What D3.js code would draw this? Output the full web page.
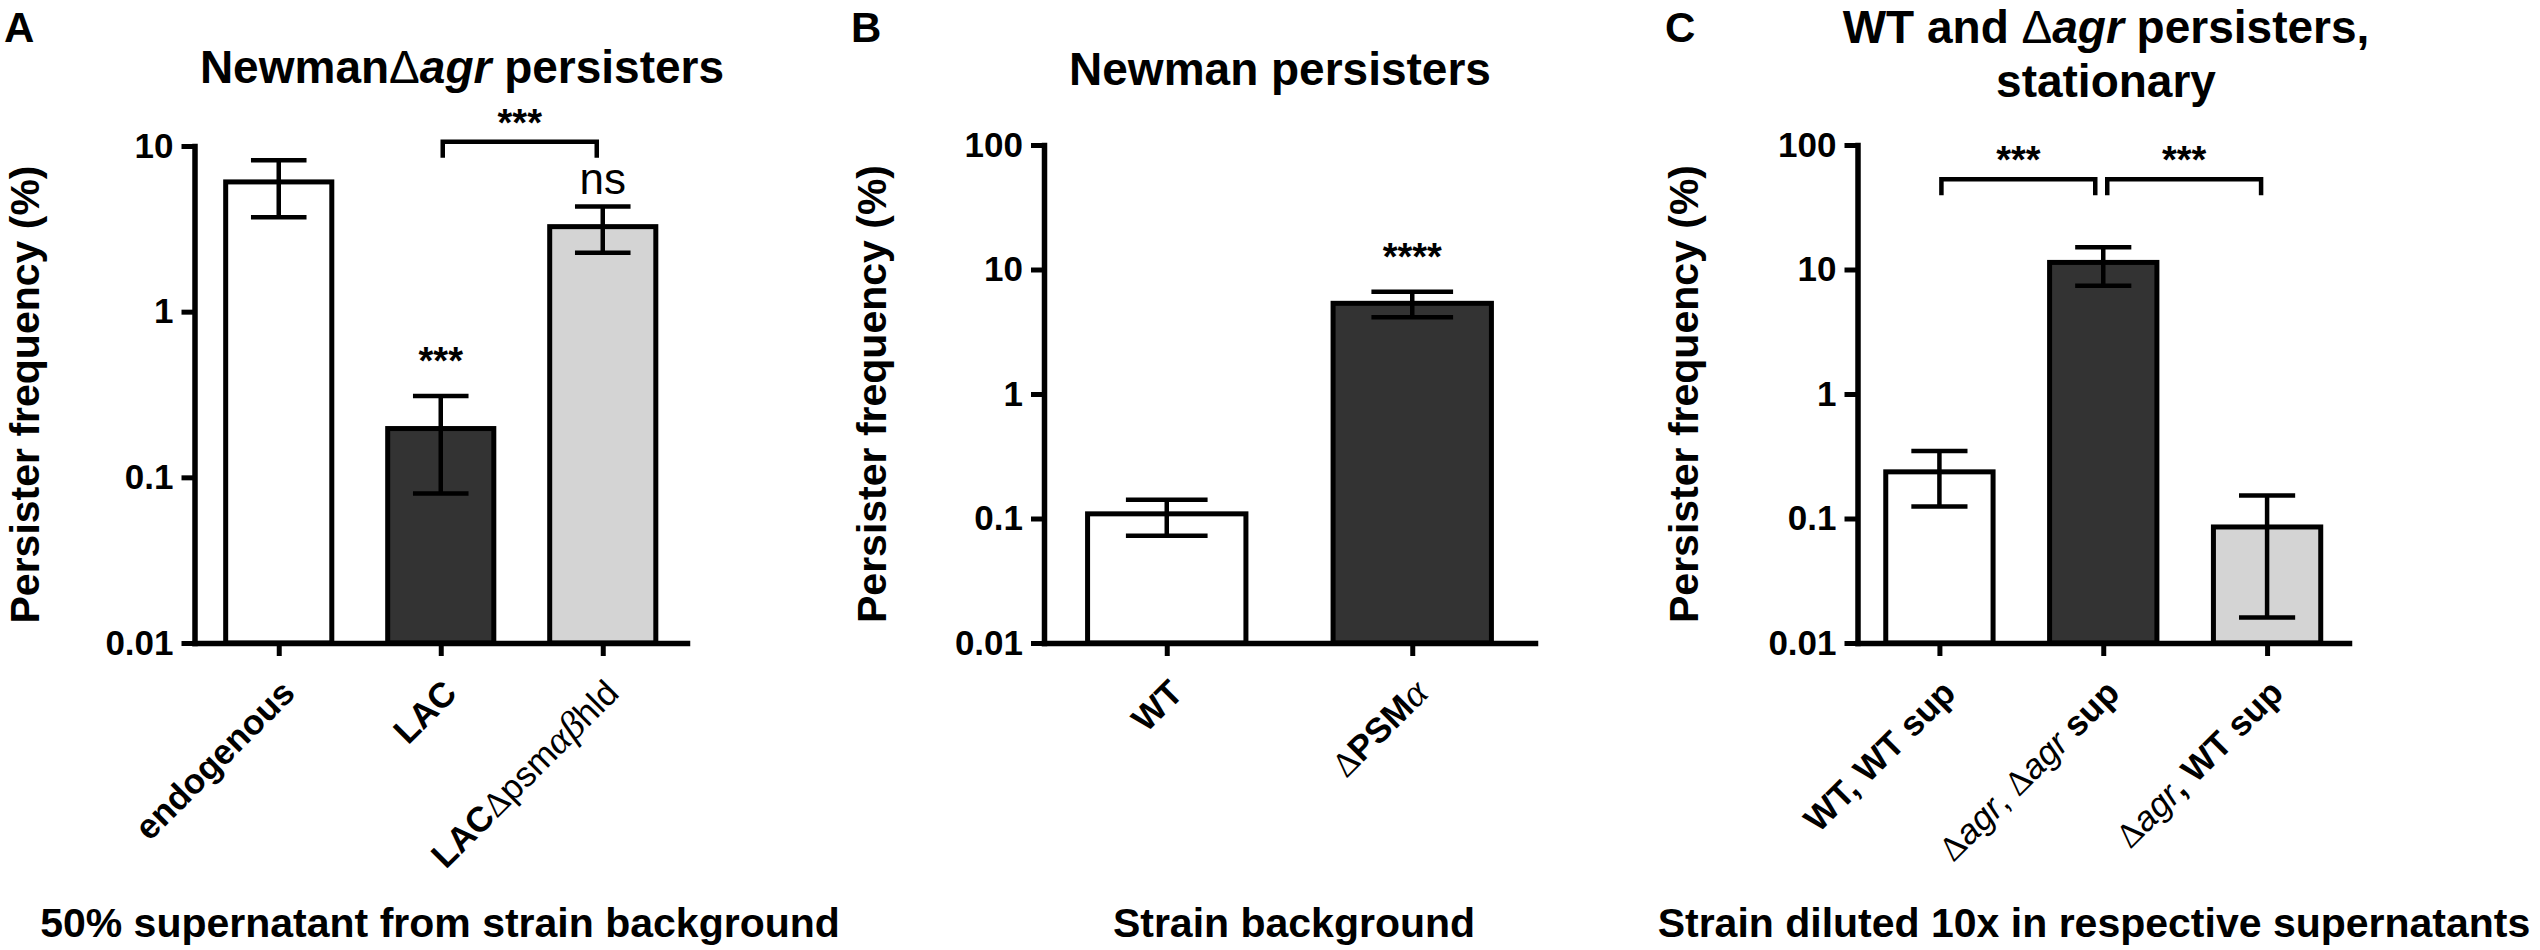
<!DOCTYPE html>
<html><head><meta charset="utf-8">
<script src="https://cdn.jsdelivr.net/npm/d3@7"></script>
<style>body{margin:0;background:#fff} svg{display:block}</style>
</head><body>
<svg id="chart" width="2540" height="950"></svg>
<script>
// ---------------- DATA ----------------
// Panel A
const aCategories = ["endogenous", "LAC", "LACΔpsmαβhld"];
const aMeans = [6.07, 0.197, 3.26];
const aLow = [3.72, 0.080, 2.27];
const aHigh = [8.2, 0.31, 4.31];
const aSig = ["", "***", "ns"];
const aBrackets = [{from: "LAC", to: "LACΔpsmαβhld", level: 10.6, label: "***"}];
const aTicks = [0.01, 0.1, 1, 10];
const aTickLabels = ["0.01", "0.1", "1", "10"];

// Panel B
const bCategories = ["WT", "ΔPSMα"];
const bMeans = [0.109, 5.35];
const bLow = [0.0726, 4.13];
const bHigh = [0.1416, 6.63];
const bSig = ["", "****"];
const bBrackets = [];
const bTicks = [0.01, 0.1, 1, 10, 100];
const bTickLabels = ["0.01", "0.1", "1", "10", "100"];

// Panel C
const cCategories = ["WT, WT sup", "Δagr, Δagr sup", "Δagr, WT sup"];
const cMeans = [0.237, 11.4, 0.0855];
const cLow = [0.125, 7.41, 0.016];
const cHigh = [0.349, 15.1, 0.153];
const cSig = ["", "", ""];
const cBrackets = [
  {from: "WT, WT sup", to: "Δagr, Δagr sup", level: 53, label: "***"},
  {from: "Δagr, Δagr sup", to: "Δagr, WT sup", level: 53, label: "***"}
];
const cTicks = [0.01, 0.1, 1, 10, 100];
const cTickLabels = ["0.01", "0.1", "1", "10", "100"];

// ---------------- STYLE / TEXT FORMATTING ----------------
const SANS = "'Liberation Sans', Arial, Helvetica, sans-serif";
const SERIF = "'Liberation Serif', 'Times New Roman', serif";
const fillColors = {white: "#ffffff", dark: "#333333", light: "#d4d4d4"};
const partStyle = {
  b:  {family: SANS, weight: "bold", style: "normal"},
  n:  {family: SANS, weight: "normal", style: "normal"},
  i:  {family: SANS, weight: "normal", style: "italic"},
  bi: {family: SANS, weight: "bold", style: "italic"},
  g:  {family: SERIF, weight: "normal", style: "italic"},
  d:  {family: SERIF, weight: "normal", style: "normal"}
};
const labelParts = {
  "endogenous": [["endogenous", "b"]],
  "LAC": [["LAC", "b"]],
  "LACΔpsmαβhld": [["LAC", "b"], ["Δ", "d"], ["psm", "n"], ["αβ", "g"], ["hld", "n"]],
  "WT": [["WT", "b"]],
  "ΔPSMα": [["Δ", "d"], ["PSM", "b"], ["α", "g"]],
  "WT, WT sup": [["WT, WT sup", "b"]],
  "Δagr, Δagr sup": [["Δ", "d"], ["agr", "i"], [", ", "n"], ["Δ", "d"], ["agr", "i"], [" sup", "b"]],
  "Δagr, WT sup": [["Δ", "d"], ["agr", "i"], [", WT sup", "b"]]
};

const svg = d3.select("#chart");

function richText(sel, parts) {
  parts.forEach(([t, k]) => {
    const s = partStyle[k];
    const ts = sel.append("tspan").text(t)
      .attr("font-family", s.family).attr("font-weight", s.weight).attr("font-style", s.style);
    if (k === "g") ts.attr("font-size", "1.12em");
  });
}

function drawPanel(cfg) {
  const g = svg.append("g");
  const y = d3.scaleLog().domain([cfg.ticks[0], cfg.ticks[cfg.ticks.length - 1]]).range([cfg.bottom, cfg.top]);
  const x = d3.scalePoint().domain(cfg.categories).range([cfg.left, cfg.right]).padding(cfg.pad);
  const bw = x.step() * cfg.barFrac;
  const capW = (bw + 5) / 2;
  const idx = d => cfg.categories.indexOf(d);

  // bars
  g.selectAll("rect.bar").data(cfg.categories).join("rect")
    .attr("class", "bar")
    .attr("x", d => x(d) - bw / 2)
    .attr("y", d => y(cfg.means[idx(d)]))
    .attr("width", bw)
    .attr("height", d => cfg.bottom - y(cfg.means[idx(d)]))
    .attr("fill", d => fillColors[cfg.fills[idx(d)]])
    .attr("stroke", "#000").attr("stroke-width", 5);

  // error bars
  const eb = g.selectAll("g.err").data(cfg.categories).join("g").attr("class", "err")
    .attr("stroke", "#000").attr("stroke-width", 4.5);
  eb.append("line")
    .attr("x1", d => x(d)).attr("x2", d => x(d))
    .attr("y1", d => y(cfg.low[idx(d)])).attr("y2", d => y(cfg.high[idx(d)]));
  eb.append("line")
    .attr("x1", d => x(d) - capW / 2).attr("x2", d => x(d) + capW / 2)
    .attr("y1", d => y(cfg.high[idx(d)])).attr("y2", d => y(cfg.high[idx(d)]));
  eb.append("line")
    .attr("x1", d => x(d) - capW / 2).attr("x2", d => x(d) + capW / 2)
    .attr("y1", d => y(cfg.low[idx(d)])).attr("y2", d => y(cfg.low[idx(d)]));

  // significance above bars
  g.selectAll("text.sig").data(cfg.categories.filter(d => cfg.sig[idx(d)] !== "")).join("text")
    .attr("class", "sig")
    .attr("x", d => x(d))
    .attr("y", d => y(cfg.high[idx(d)]) - (cfg.sig[idx(d)] === "ns" ? 13 : 22))
    .attr("text-anchor", "middle")
    .attr("font-family", SANS)
    .attr("font-weight", d => cfg.sig[idx(d)] === "ns" ? "normal" : "bold")
    .attr("font-size", d => cfg.sig[idx(d)] === "ns" ? 44 : 38)
    .text(d => cfg.sig[idx(d)]);

  // brackets
  cfg.brackets.forEach((b, bi) => {
    const x1 = x(b.from) + (bi > 0 ? 4 : 2);
    const x2 = x(b.to) - (bi === 0 && cfg.brackets.length > 1 ? 8 : 6);
    const yb = y(b.level);
    g.append("path")
      .attr("d", `M${x1},${yb + 16}V${yb}H${x2}V${yb + 16}`)
      .attr("fill", "none").attr("stroke", "#000").attr("stroke-width", 4.5);
    g.append("text")
      .attr("x", (x1 + x2) / 2).attr("y", yb - 6)
      .attr("text-anchor", "middle")
      .attr("font-family", SANS).attr("font-weight", "bold").attr("font-size", 38)
      .text(b.label);
  });

  // y axis
  const labelMap = new Map(cfg.ticks.map((t, i) => [t, cfg.tickLabels[i]]));
  const yAxis = d3.axisLeft(y).tickValues(cfg.ticks).tickFormat(d => labelMap.get(d))
    .tickSize(13).tickSizeOuter(0).tickPadding(8);
  const ya = g.append("g").attr("transform", `translate(${cfg.left},0)`).call(yAxis);
  ya.select(".domain").attr("stroke-width", 5.5).attr("stroke-linecap", "square");
  ya.selectAll(".tick line").attr("stroke-width", 5);
  ya.selectAll(".tick text").attr("font-family", SANS).attr("font-weight", "bold")
    .attr("font-size", 35).attr("fill", "#000");

  // x axis
  const xAxis = d3.axisBottom(x).tickSize(13).tickSizeOuter(0).tickFormat("");
  const xa = g.append("g").attr("transform", `translate(0,${cfg.bottom})`).call(xAxis);
  xa.select(".domain").attr("stroke-width", 5.5).attr("stroke-linecap", "square");
  xa.selectAll(".tick line").attr("stroke-width", 5);

  // x tick labels (rotated)
  cfg.categories.forEach(c => {
    const t = g.append("text")
      .attr("transform", `translate(${x(c) + 18},${cfg.bottom + 52}) rotate(-45)`)
      .attr("text-anchor", "end").attr("font-size", 35).attr("fill", "#000");
    richText(t, labelParts[c]);
  });

  // y axis title
  g.append("text")
    .attr("transform", `translate(${cfg.yTitleX},${(cfg.top + cfg.bottom) / 2}) rotate(-90)`)
    .attr("text-anchor", "middle")
    .attr("font-family", SANS).attr("font-weight", "bold").attr("font-size", 41)
    .text("Persister frequency (%)");

  // x axis title
  g.append("text")
    .attr("x", cfg.xTitleX).attr("y", 937)
    .attr("text-anchor", "middle")
    .attr("font-family", SANS).attr("font-weight", "bold").attr("font-size", 41)
    .text(cfg.xTitle);

  // panel letter
  g.append("text").attr("x", cfg.letterX).attr("y", 42)
    .attr("font-family", SANS).attr("font-weight", "bold").attr("font-size", 42)
    .text(cfg.letter);

  // title
  cfg.titleLines.forEach((line, li) => {
    const t = g.append("text")
      .attr("x", cfg.titleX).attr("y", cfg.titleY[li])
      .attr("text-anchor", "middle").attr("font-size", 46);
    richText(t, line);
  });
}

drawPanel({
  categories: aCategories, means: aMeans, low: aLow, high: aHigh, sig: aSig, brackets: aBrackets,
  ticks: aTicks, tickLabels: aTickLabels, fills: ["white", "dark", "light"],
  left: 194.5, right: 687, top: 146, bottom: 643, pad: 0.52, barFrac: 0.655,
  yTitleX: 39, xTitleX: 440, xTitle: "50% supernatant from strain background",
  letter: "A", letterX: 4,
  titleX: 462, titleY: [83],
  titleLines: [[["Newman", "b"], ["Δ", "n"], ["agr", "bi"], [" persisters", "b"]]]
});

drawPanel({
  categories: bCategories, means: bMeans, low: bLow, high: bHigh, sig: bSig, brackets: bBrackets,
  ticks: bTicks, tickLabels: bTickLabels, fills: ["white", "dark"],
  left: 1044, right: 1535, top: 145, bottom: 643, pad: 0.5, barFrac: 0.645,
  yTitleX: 886, xTitleX: 1294, xTitle: "Strain background",
  letter: "B", letterX: 851,
  titleX: 1280, titleY: [85],
  titleLines: [[["Newman persisters", "b"]]]
});

drawPanel({
  categories: cCategories, means: cMeans, low: cLow, high: cHigh, sig: cSig, brackets: cBrackets,
  ticks: cTicks, tickLabels: cTickLabels, fills: ["white", "dark", "light"],
  left: 1857.5, right: 2349, top: 145, bottom: 643, pad: 0.5, barFrac: 0.655,
  yTitleX: 1698, xTitleX: 2094, xTitle: "Strain diluted 10x in respective supernatants",
  letter: "C", letterX: 1665,
  titleX: 2106, titleY: [43, 97],
  titleLines: [
    [["WT and ", "b"], ["Δ", "n"], ["agr", "bi"], [" persisters,", "b"]],
    [["stationary", "b"]]
  ]
});
</script>
</body></html>
